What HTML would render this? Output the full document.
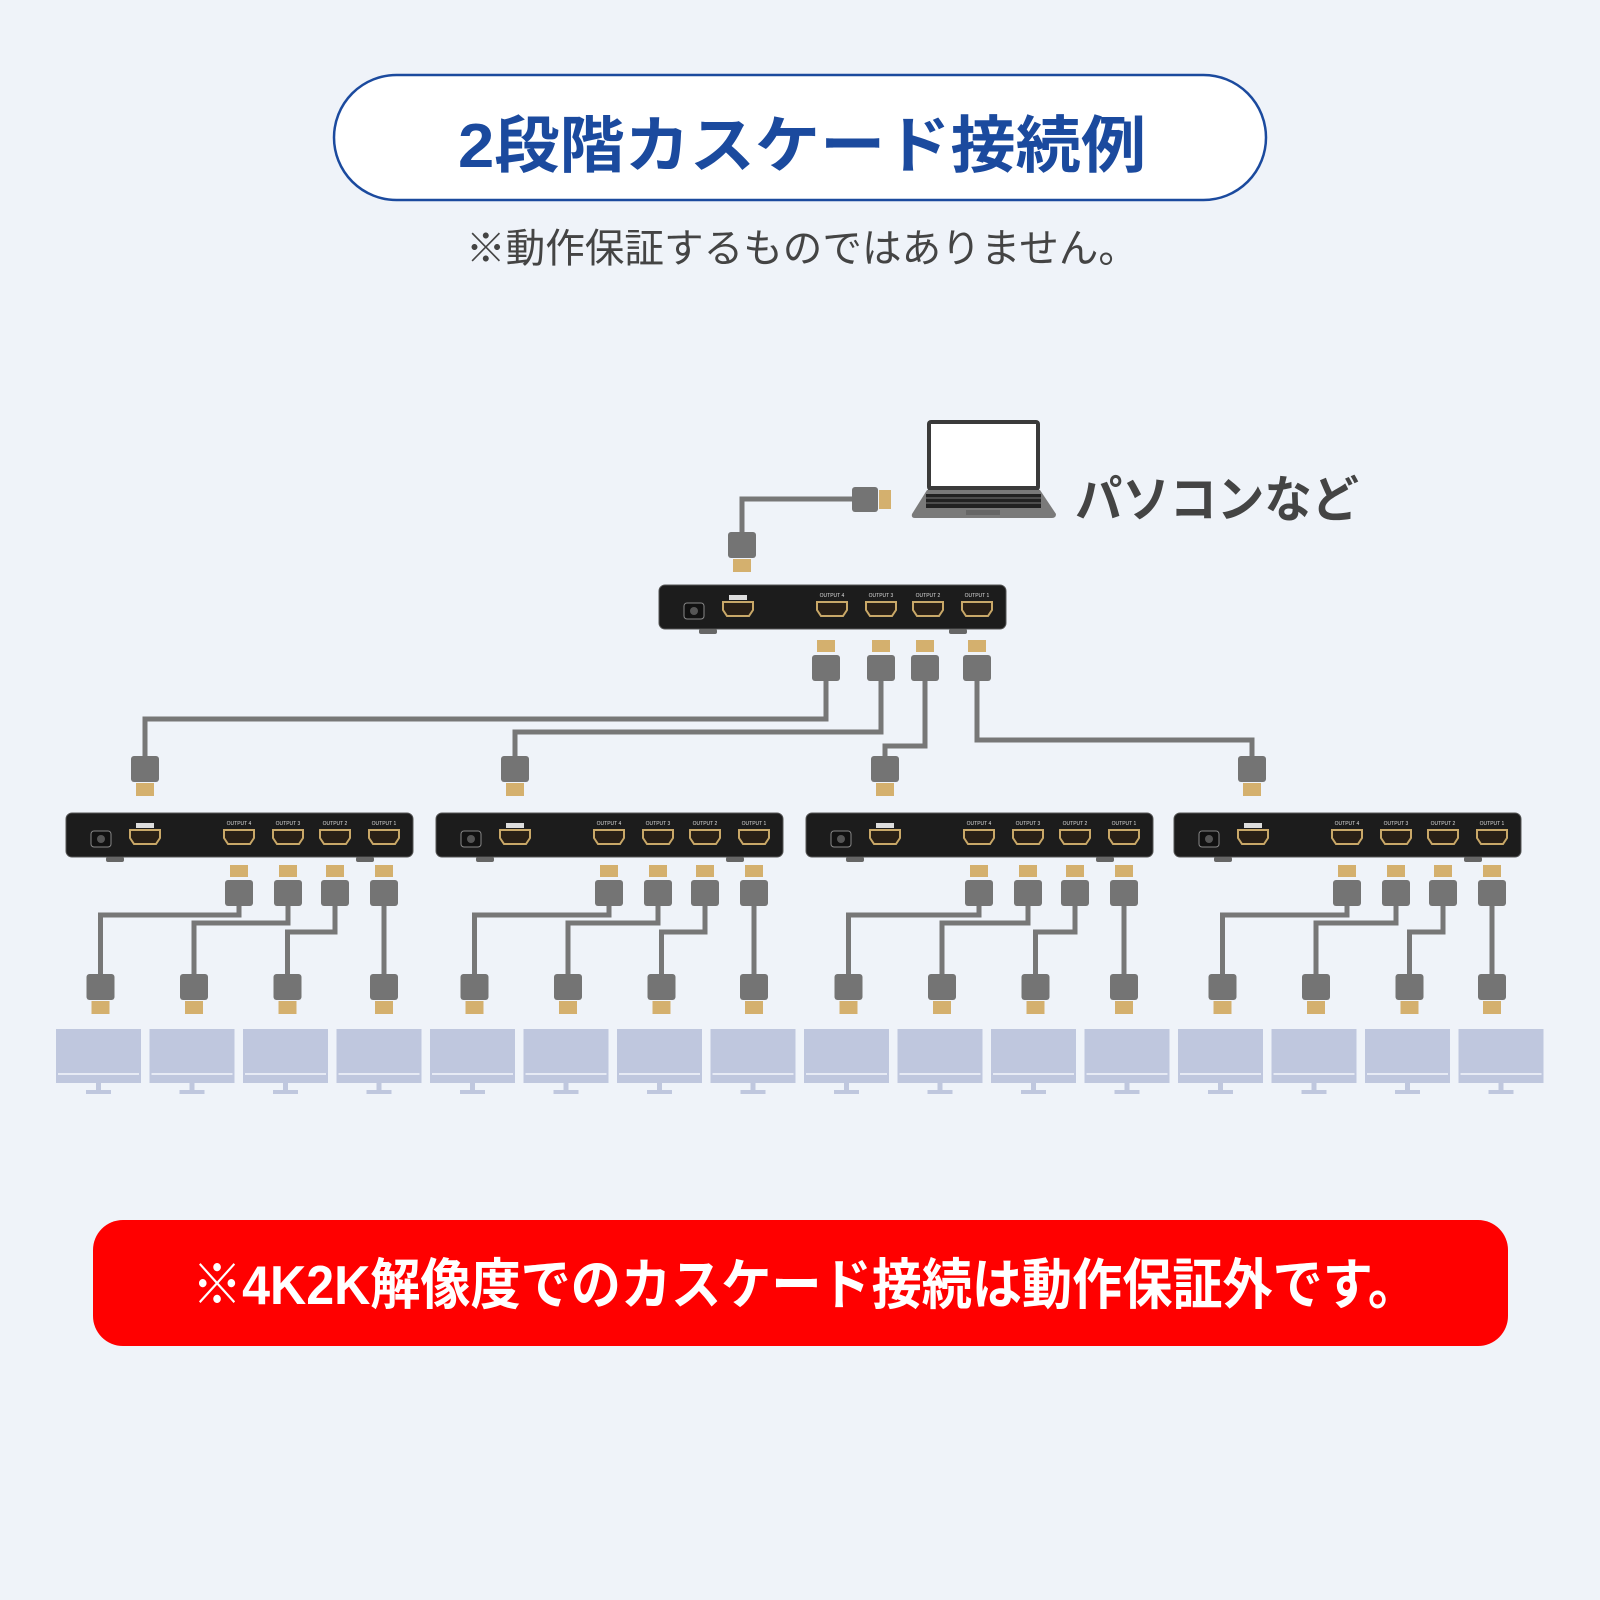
<!DOCTYPE html>
<html><head><meta charset="utf-8"><style>
html,body{margin:0;padding:0;background:#eff3f9;}
svg{display:block}
</style></head><body>
<svg id="s" xmlns="http://www.w3.org/2000/svg" width="1600" height="1600" viewBox="0 0 1600 1600">
<rect width="1600" height="1600" fill="#eff3f9"/>
<rect x="334" y="75" width="932" height="125" rx="62.5" fill="#fff" stroke="#1b4a9e" stroke-width="2.5"/>
<text x="458" y="167" font-family="'Liberation Sans','Noto Sans CJK JP',sans-serif" font-weight="bold" font-size="62" fill="#1b4a9e" textLength="688" lengthAdjust="spacingAndGlyphs">2段階カスケード接続例</text>
<text x="466" y="262" font-family="'Liberation Sans','Noto Sans CJK JP',sans-serif" font-size="40" fill="#444" textLength="672" lengthAdjust="spacingAndGlyphs">※動作保証するものではありません。</text>
<text x="1075" y="517" font-family="'Liberation Sans','Noto Sans CJK JP',sans-serif" font-weight="bold" font-size="50" fill="#444" textLength="284" lengthAdjust="spacingAndGlyphs">パソコンなど</text>
<!-- laptop -->
<rect x="927" y="420" width="113" height="71" rx="4" fill="#3a3a3a"/>
<rect x="931" y="424" width="105" height="62" fill="#fff"/>
<path d="M927 490 L1040 490 L1056 514 Q1056 518 1052 518 L915 518 Q911 518 912 514 Z" fill="#7a7a7a"/>
<rect x="926" y="494" width="115" height="14" fill="#222"/>
<g stroke="#7a7a7a" stroke-width="1"><line x1="926" y1="498" x2="1041" y2="498"/><line x1="926" y1="503" x2="1041" y2="503"/></g>
<rect x="966" y="510" width="34" height="5" fill="#666"/>
<rect x="640" y="1220" width="0" height="0"/>
<rect x="93" y="1220" width="1415" height="126" rx="30" fill="#ff0000"/>
<text x="192" y="1304" font-family="'Liberation Sans','Noto Sans CJK JP',sans-serif" font-weight="bold" font-size="55" fill="#fff" textLength="1226" lengthAdjust="spacingAndGlyphs">※4K2K解像度でのカスケード接続は動作保証外です。</text>
<g id="g"></g>
</svg>
<script>
var g=document.getElementById('g'),NS='http://www.w3.org/2000/svg',h='';
function plugDown(cx,y){ // gray on top, gold below (connector pointing down)
 h+='<rect x="'+(cx-14)+'" y="'+y+'" width="28" height="26" rx="3" fill="#747474"/><rect x="'+(cx-9)+'" y="'+(y+27)+'" width="18" height="13" fill="#d4b06e"/>';}
function plugUp(cx,y){ // gold on top at y, gray below
 h+='<rect x="'+(cx-9)+'" y="'+y+'" width="18" height="12" fill="#d4b06e"/><rect x="'+(cx-14)+'" y="'+(y+15)+'" width="28" height="26" rx="3" fill="#747474"/>';}
function line(pts){h+='<polyline points="'+pts+'" fill="none" stroke="#777" stroke-width="5"/>';}
function port(cx,cy,lab){
 h+='<path d="M'+(cx-15)+' '+(cy-7)+' h30 v8 l-4 6 h-22 l-4 -6 z" fill="#2a2016" stroke="#c9a868" stroke-width="2"/>';
 if(lab)h+='<text x="'+cx+'" y="'+(cy-12)+'" font-family="Liberation Sans,sans-serif" font-size="5" fill="#ddd" text-anchor="middle">'+lab+'</text>';}
function splitter(x,y){
 h+='<rect x="'+x+'" y="'+y+'" width="347" height="44" rx="6" fill="#1c1c1c" stroke="#555" stroke-width="1"/>';
 h+='<rect x="'+(x+25)+'" y="'+(y+18)+'" width="20" height="16" rx="3" fill="#111" stroke="#888"/><circle cx="'+(x+35)+'" cy="'+(y+26)+'" r="4" fill="#555"/>';
 h+='<rect x="'+(x+70)+'" y="'+(y+10)+'" width="18" height="5" fill="#ddd"/>';
 port(x+79,y+24,'');
 var o=[173,222,269,318];for(var i=0;i<4;i++)port(x+o[i],y+24,'OUTPUT '+(4-i));
 h+='<rect x="'+(x+40)+'" y="'+(y+44)+'" width="18" height="5" rx="2" fill="#666"/><rect x="'+(x+290)+'" y="'+(y+44)+'" width="18" height="5" rx="2" fill="#666"/>';}
// top
line('742,532 742,499 852,499');
h+='<rect x="852" y="487" width="26" height="25" rx="3" fill="#747474"/><rect x="879" y="490" width="12" height="19" fill="#d4b06e"/>';
plugDown(742,532);
splitter(659,585);
var tx=[826,881,925,977],mid=[145,515,885,1252],hy=[719,732,746,740];
for(var i=0;i<4;i++){line(tx[i]+',680 '+tx[i]+','+hy[i]+' '+mid[i]+','+hy[i]+' '+mid[i]+',757');plugUp(tx[i],640);plugDown(mid[i],756);}
var x0=[66,436,806,1174];
for(var k=0;k<4;k++){
 var x=x0[k];splitter(x,813);
 var o=[173,222,269,318],ys=[915,923,932,0];
 for(var i=0;i<4;i++){
  var tcx=x+o[i],bcx=56+42.5+93.5*(k*4+i)+2;
  if(i<3)line(tcx+',905 '+tcx+','+ys[i]+' '+bcx+','+ys[i]+' '+bcx+',975');else{bcx=tcx;line(tcx+',905 '+tcx+',975');}
  plugUp(tcx,865);plugDown(bcx,974);
 }
}
for(var m=0;m<16;m++){var mx=56+93.5*m;
 h+='<rect x="'+mx+'" y="1029" width="85" height="54" fill="#bfc7de"/><rect x="'+(mx+2)+'" y="1073" width="81" height="2" fill="#e6eaf4"/><rect x="'+(mx+40)+'" y="1083" width="5" height="8" fill="#bfc7de"/><rect x="'+(mx+30)+'" y="1090" width="25" height="4" fill="#bfc7de"/>';}
g.innerHTML=h;
</script>
</body></html>
